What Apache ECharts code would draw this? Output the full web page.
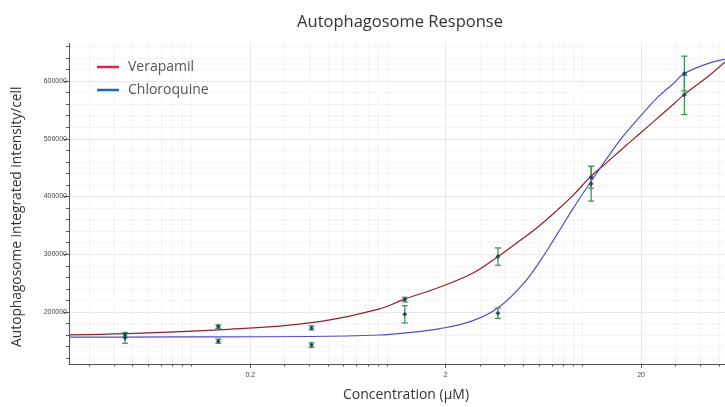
<!DOCTYPE html>
<html>
<head>
<meta charset="utf-8">
<script src="https://cdn.jsdelivr.net/npm/echarts@6/dist/echarts.min.js"></script>
<style>
html,body{margin:0;padding:0;background:#fff;}
#chart{width:725px;height:407px;}
</style>
</head>
<body>
<div id="chart"></div>
<script>
// measured points
const concentrations = [0.0457, 0.1372, 0.4115, 1.235, 3.704, 11.11, 33.33];
const verapamilMean = [160500, 174800, 172500, 221500, 296000, 433500, 576000];
const verapamilErr = [4000, 3000, 3500, 4000, 15000, 19000, 34000];
const chloroquineMean = [155000, 149500, 142700, 196000, 198000, 422000, 613000];
const chloroquineErr = [9000, 3500, 4000, 15000, 9000, 30000, 30000];

// fitted curves
const curveConc = [0.0236, 0.0461, 0.138, 0.413, 0.922, 1.223, 1.87, 2.76, 3.71, 4.98, 6.08, 7.43, 8.97, 10.97, 13.4, 16.2, 19.8, 24.2, 29.2, 33.2, 43.5, 53.8];
const verapamilFit = [160500, 162700, 169100, 181600, 205700, 222000, 243400, 267500, 296100, 327600, 350400, 376100, 401900, 433500, 459200, 484100, 509500, 535300, 559300, 576500, 606500, 633100];
const chloroquineFit = [156700, 156700, 157100, 157600, 160200, 163600, 171300, 185100, 207400, 248600, 288100, 334400, 379000, 423700, 466600, 504400, 538700, 571300, 595300, 612500, 629700, 637400];

// axes
const xMin = 0.0236, xMax = 53.8;
const xLabels = [0.2, 2, 20];
const xMinorTicks = [0.03,0.04,0.05,0.06,0.07,0.08,0.09,0.1,0.2,0.3,0.4,0.5,0.6,0.7,0.8,0.9,1,2,3,4,5,6,7,8,9,10,20,30,40,50];
const yMin = 110000, yMax = 665000;
const yLabels = [200000, 300000, 400000, 500000, 600000];
const yMinorTicks = [120000,140000,160000,180000,200000,220000,240000,260000,280000,300000,320000,340000,360000,380000,400000,420000,440000,460000,480000,500000,520000,540000,560000,580000,600000,620000,640000,660000];

const FONT = 'Open Sans';
const fmtNum = v => String(parseFloat(Number(v).toPrecision(4)));

const chart = echarts.init(document.getElementById('chart'), null, {renderer: 'canvas'});

function zip(xs, ys) { return xs.map((x, i) => [x, ys[i]]); }
function errData(xs, m, e) { return xs.map((x, i) => [x, m[i] - e[i], m[i] + e[i]]); }

const errRender = function (params, api) {
  const x = api.value(0);
  const lo = api.coord([x, api.value(1)]);
  const hi = api.coord([x, api.value(2)]);
  const w = 3;
  const style = {stroke: '#3d9a55', lineWidth: 1.3};
  return {
    type: 'group',
    children: [
      {type: 'line', shape: {x1: lo[0], y1: lo[1], x2: hi[0], y2: hi[1]}, style},
      {type: 'line', shape: {x1: lo[0] - w, y1: lo[1], x2: lo[0] + w, y2: lo[1]}, style},
      {type: 'line', shape: {x1: hi[0] - w, y1: hi[1], x2: hi[0] + w, y2: hi[1]}, style}
    ]
  };
};

const option = {
  animation: false,
  backgroundColor: '#fff',
  textStyle: {fontFamily: FONT},
  title: {
    text: 'Autophagosome Response',
    left: 395, top: 9, textAlign: 'center',
    textStyle: {fontFamily: FONT, fontSize: 16.5, fontWeight: 'normal', color: '#333'}
  },
  legend: {
    orient: 'vertical', left: 97, top: 60, itemGap: 9, padding: 0,
    icon: 'rect', itemWidth: 22, itemHeight: 2.5,
    textStyle: {fontFamily: FONT, fontSize: 14, color: '#555', padding: [0, 0, 0, 4]},
    data: [
      {name: 'Verapamil', itemStyle: {color: '#e0204e'}},
      {name: 'Chloroquine', itemStyle: {color: '#1a6db5'}}
    ]
  },
  grid: {left: 69, right: 0, top: 43.5, bottom: 39.5, containLabel: false},
  xAxis: [
    {
      type: 'log', min: xMin, max: xMax, position: 'bottom',
      axisLine: {show: true, lineStyle: {color: '#555', width: 1}},
      axisTick: {show: true, customValues: xMinorTicks, length: 2.5, lineStyle: {color: '#555'}},
      axisLabel: {show: false},
      splitLine: {show: true, lineStyle: {color: '#ebebeb', type: [2, 2], width: 1}},
      minorTick: {show: false}
    },
    {
      type: 'log', min: xMin, max: xMax, position: 'bottom',
      axisLine: {show: false},
      axisTick: {show: true, customValues: xLabels, length: 4, lineStyle: {color: '#555'}},
      axisLabel: {show: true, customValues: xLabels, formatter: fmtNum, fontSize: 7, color: '#444', margin: 8, fontFamily: 'Liberation Sans'},
      splitLine: {show: true, lineStyle: {color: '#e8e8e8', type: 'solid', width: 1}},
      name: 'Concentration (µM)', nameLocation: 'middle', nameGap: 24,
      nameTextStyle: {fontFamily: FONT, fontSize: 14, color: '#333', padding: [0, 0, 0, 18]}
    }
  ],
  yAxis: [
    {
      type: 'value', min: yMin, max: yMax, position: 'left',
      axisLine: {show: true, lineStyle: {color: '#555', width: 1}},
      axisTick: {show: true, customValues: yMinorTicks, length: 3, lineStyle: {color: '#555'}},
      axisLabel: {show: false},
      splitLine: {show: true, lineStyle: {color: '#ebebeb', type: [2, 2], width: 1}}
    },
    {
      type: 'value', min: yMin, max: yMax, position: 'left',
      axisLine: {show: false},
      axisTick: {show: true, customValues: yLabels, length: 5, lineStyle: {color: '#555'}},
      axisLabel: {show: true, customValues: yLabels, formatter: v => String(v), fontSize: 7, color: '#444', margin: 2, fontFamily: 'Liberation Sans'},
      splitLine: {show: true, lineStyle: {color: '#e8e8e8', type: 'solid', width: 1}},
      name: 'Autophagosome integrated intensity/cell', nameLocation: 'middle', nameGap: 45,
      nameTextStyle: {fontFamily: FONT, fontSize: 13.75, color: '#333', padding: [0, 26, 0, 0]}
    }
  ],
  series: [
    {
      name: 'Verapamil', type: 'line', symbol: 'none', smooth: 0.4,
      xAxisIndex: 0, yAxisIndex: 0, z: 3,
      itemStyle: {color: '#e0204e'},
      lineStyle: {color: '#8e2228', width: 1.2},
      data: zip(curveConc, verapamilFit)
    },
    {
      name: 'Chloroquine', type: 'line', symbol: 'none', smooth: 0.4,
      xAxisIndex: 0, yAxisIndex: 0, z: 3,
      itemStyle: {color: '#1a6db5'},
      lineStyle: {color: '#4f4fc2', width: 1.2},
      data: zip(curveConc, chloroquineFit)
    },
    {
      name: 'Verapamil error', type: 'custom', renderItem: errRender, xAxisIndex: 0, yAxisIndex: 0, z: 4,
      encode: {x: 0, y: [1, 2]},
      data: errData(concentrations, verapamilMean, verapamilErr)
    },
    {
      name: 'Chloroquine error', type: 'custom', renderItem: errRender, xAxisIndex: 0, yAxisIndex: 0, z: 4,
      encode: {x: 0, y: [1, 2]},
      data: errData(concentrations, chloroquineMean, chloroquineErr)
    },
    {
      name: 'Verapamil points', type: 'scatter', symbol: 'diamond', symbolSize: 5,
      xAxisIndex: 0, yAxisIndex: 0, z: 5,
      itemStyle: {color: '#1b2b63'},
      data: zip(concentrations, verapamilMean)
    },
    {
      name: 'Chloroquine points', type: 'scatter', symbol: 'diamond', symbolSize: 5,
      xAxisIndex: 0, yAxisIndex: 0, z: 5,
      itemStyle: {color: '#1b2b63'},
      data: zip(concentrations, chloroquineMean)
    }
  ]
};
chart.setOption(option);
</script>
</body>
</html>
